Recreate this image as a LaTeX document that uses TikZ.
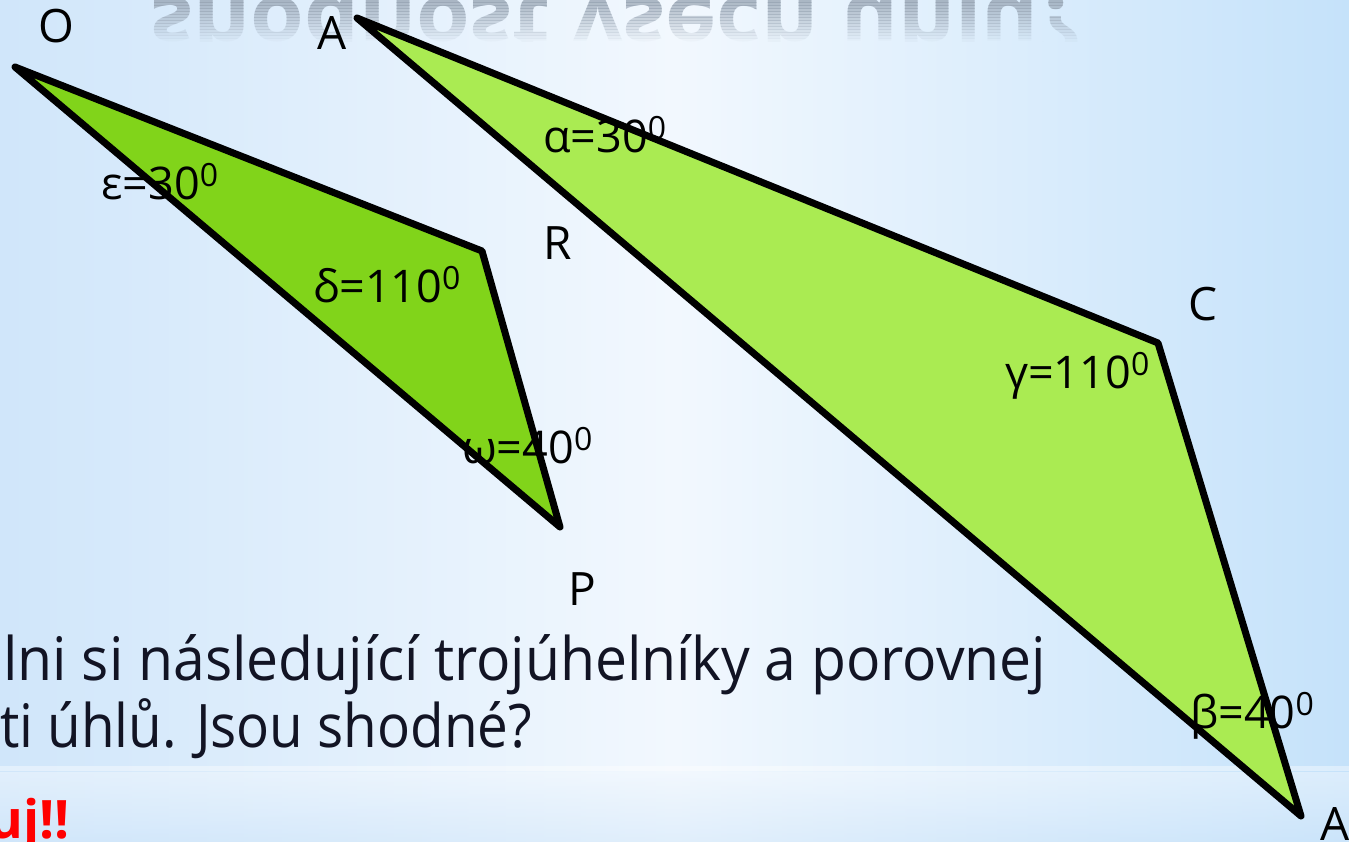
\documentclass[tikz,border=0pt]{standalone}
\usepackage{fontspec}
\setmainfont{Open Sans}
\usetikzlibrary{positioning}
\definecolor{skyL}{RGB}{208,230,250}
\definecolor{skyM}{RGB}{242,248,254}
\definecolor{skyR}{RGB}{197,226,250}
\definecolor{grass}{RGB}{129,212,26}
\definecolor{lime}{RGB}{170,235,82}
\definecolor{ink}{RGB}{18,20,36}
\definecolor{mist}{RGB}{150,163,178}
\newcommand{\degsup}{\raisebox{13pt}{\fontsize{32}{32}\selectfont 0}}
\tikzset{
  tri/.style={draw=black,line width=7pt,line join=round},
  vertex/.style={font=\fontsize{46}{46}\selectfont,inner sep=0pt,anchor=base west},
  anglab/.style={font=\fontsize{45}{45}\selectfont,inner sep=0pt,anchor=base west},
  body/.style={font=\fontsize{60}{60}\selectfont,inner sep=0pt,anchor=base west,text=ink},
  refl/.style={font=\fontsize{80}{80}\selectfont\bfseries,inner sep=0pt,anchor=north west,text=mist}
}

\begin{document}
\begin{tikzpicture}[x=1pt,y=-1pt]
  \useasboundingbox (0,0) rectangle (1349,842);
  \clip (0,0) rectangle (1349,842);
  % background
  \shade[left color=skyL,right color=skyR,middle color=skyM] (0,0) rectangle (1349,842);
  \shade[top color=skyM,bottom color=skyL,opacity=0.5] (0,772) rectangle (1349,842);
  \fill[white,opacity=0.4] (0,766) rectangle (1349,771);
  % reflected title, fading out
  \foreach \k [evaluate=\k as \op using 0.75*(1-\k/14)] in {0,...,13}{
    \begin{scope}
      \clip (0,3*\k) rectangle (1349,3*\k+3);
      \node[refl,opacity=\op] (refl\k) at (150,-4)
        {\scalebox{1}[-1]{\resizebox{930pt}{\height}{shodnost všech úhlů?}}};
    \end{scope}
  }
  % triangles
  \coordinate (O) at (15,67);
  \coordinate (R) at (482,251);
  \coordinate (P) at (560,527);
  \coordinate (A) at (357,18);
  \coordinate (C) at (1158,343);
  \coordinate (B) at (1301,816);
  \draw[tri,fill=grass] (O) -- (R) -- (P) -- cycle;
  \draw[tri,fill=lime] (A) -- (C) -- (B) -- cycle;
  % vertices
  \node[vertex] (lblO) at (38,43) {O};
  \node[vertex] (lblA) at (317,50) {A};
  \node[vertex] (lblR) at (543,260) {R};
  \node[vertex] (lblC) at (1188,320) {C};
  \node[vertex] (lblP) at (568,605) {P};
  \node[vertex] (lblB) at (1320,840) {A};
  % angles
  \node[anglab] (angE) at (101,200) {ε=30\degsup};
  \node[anglab] (angD) at (313,302) {δ=110\degsup};
  \node[anglab] (angW) at (462,463) {ω=40\degsup};
  \node[anglab] (angA) at (543,153) {α=30\degsup};
  \node[anglab] (angG) at (1005,388) {γ=110\degsup};
  \node[anglab] (angB) at (1190,728) {β=40\degsup};
  % text
  \node[body] (line1) at (3,680) {\resizebox{1043pt}{\height}{lni si následující trojúhelníky a porovnej}};
  \node[body] (line2) at (0,747) {\resizebox{532pt}{\height}{ti úhlů. Jsou shodné?}};
  \node[body,anchor=base east,text=red,font=\fontsize{53}{53}\selectfont\bfseries] (hint) at (70,838) {uj!!};
\end{tikzpicture}
\end{document}
